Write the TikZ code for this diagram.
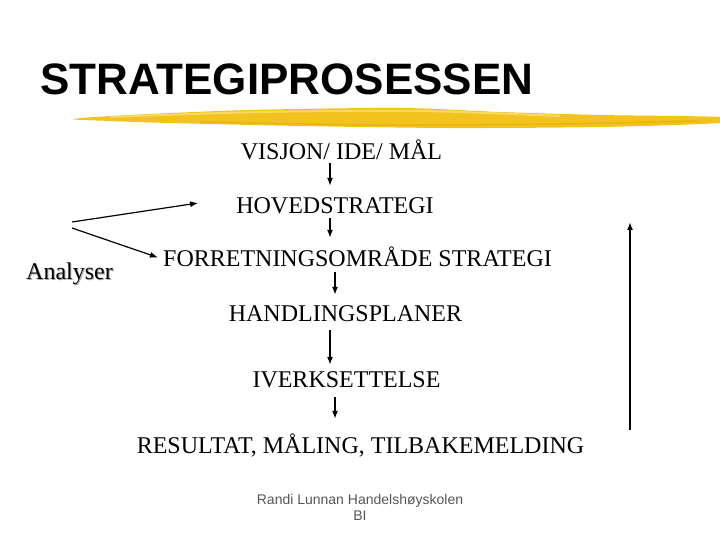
\documentclass[tikz,border=0pt]{standalone}
\usepackage{fontspec}
\setmainfont{Liberation Serif}
\setsansfont{Liberation Sans}
\usetikzlibrary{arrows.meta}
\definecolor{brush}{HTML}{F2C21E}
\definecolor{brushlight}{HTML}{F8D964}
\definecolor{brushdark}{HTML}{E9B40C}
\definecolor{footgray}{HTML}{555555}
\tikzset{
  level/.style={anchor=base, inner sep=0pt, text height=17pt, text depth=0pt, font=\fontsize{24}{28}\selectfont},
  flow/.style={line width=1.4pt, -{Latex[length=8pt,width=6pt]}},
}
\begin{document}
\begin{tikzpicture}[x=1pt, y=-1pt]
\useasboundingbox (0,0) rectangle (720,540);

\node [anchor=base west, inner sep=0pt, font=\sffamily\bfseries\fontsize{44}{50}\selectfont] (title) at (40,95) {STRATEGIPROSESSEN};
\fill [brush] plot [smooth cycle] coordinates {(73,119) (130,115) (250,110) (400,108) (500,112) (600,115) (719,117) (719,123) (600,127) (450,128) (300,126) (170,123) (110,121)};
\draw [brushlight, line width=2pt] plot [smooth] coordinates {(110,117) (260,112) (420,111) (560,116)};
\draw [brushdark, line width=1.5pt] plot [smooth] coordinates {(200,122) (380,125) (560,124) (700,121)};

\node [level] (vis) at (341.5,160) {VISJON/ IDE/ MÅL};
\node [level] (hov) at (335,214) {HOVEDSTRATEGI};
\node [level] (fo) at (357.5,266) {FORRETNINGSOMRÅDE STRATEGI};
\node [level] (hl) at (345.5,321) {HANDLINGSPLANER};
\node [level] (iv) at (346.5,387) {IVERKSETTELSE};
\node [level] (res) at (360.5,453) {RESULTAT, MÅLING, TILBAKEMELDING};
\node [level, text=black!35] (anashadow) at (70.5,280) {Analyser};
\node [level] (ana) at (69.5,279) {Analyser};
\node [anchor=base, inner sep=0pt, align=center, text=footgray, font=\sffamily\fontsize{14}{15.5}\selectfont] (foot) at (360,520) {Randi Lunnan Handelshøyskolen\\BI};

\coordinate (ax) at (330,0);
\coordinate (bx) at (335,0);
\draw [flow, shorten <=3pt, shorten >=11pt] (vis.south -| ax) -- (hov.north -| ax);
\draw [flow, shorten <=4pt, shorten >=11pt] (hov.south -| ax) -- (fo.north -| ax);
\draw [flow, shorten <=6pt, shorten >=9pt] (fo.south -| bx) -- (hl.north -| bx);
\draw [flow, shorten <=9pt, shorten >=5pt] (hl.south -| ax) -- (iv.north -| ax);
\draw [flow, shorten <=10pt, shorten >=17pt] (iv.south -| bx) -- (res.north -| bx);

\coordinate (s1) at (72,222);
\coordinate (s2) at (72,228);
\draw [flow, line width=1.2pt] (s1) -- ([xshift=-38pt, yshift=2.5pt]hov.west);
\draw [flow, line width=1.2pt] (s2) -- ([xshift=-5pt]fo.west);

\coordinate (fb0) at (630,430);
\coordinate (fb1) at (630,222);
\draw [flow, line width=2pt] (fb0) -- (fb1);
\end{tikzpicture}
\end{document}
